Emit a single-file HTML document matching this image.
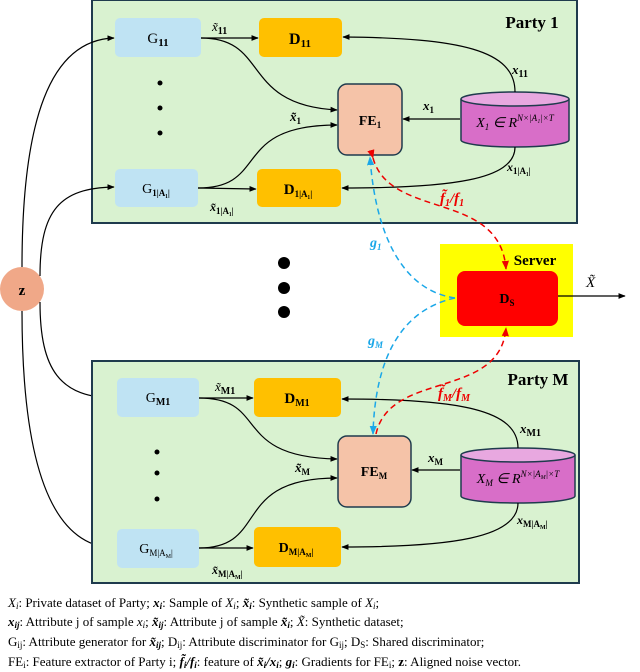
<!DOCTYPE html>
<html><head><meta charset="utf-8"><style>
body{margin:0;background:#fff;}
svg{display:block;}
text{font-family:"Liberation Serif",serif;}
.b{font-weight:bold;}
.lg{font-size:13px;}
</style></head><body>
<svg width="640" height="672" viewBox="0 0 640 672" xmlns="http://www.w3.org/2000/svg">
<defs>
<marker id="a" viewBox="0 0 10 10" refX="9" refY="5" markerWidth="6" markerHeight="6" orient="auto"><path d="M0,1 L10,5 L0,9 z" fill="#000"/></marker>
<marker id="r" viewBox="0 0 10 10" refX="9" refY="5" markerWidth="6" markerHeight="6" orient="auto"><path d="M0,1 L10,5 L0,9 z" fill="#e00"/></marker>
<marker id="c" viewBox="0 0 10 10" refX="9" refY="5" markerWidth="6" markerHeight="6" orient="auto"><path d="M0,1 L10,5 L0,9 z" fill="#1aa7e8"/></marker>
</defs>
<!-- Party 1 -->
<rect x="92" y="0" width="485" height="223" fill="#d9f2d0" stroke="#1f3b4d" stroke-width="2"/>
<text x="532" y="28" font-size="17" class="b" text-anchor="middle">Party 1</text>
<rect x="115" y="18" width="86" height="39" rx="5" fill="#bfe3f3"/>
<text x="158" y="43" font-size="15" text-anchor="middle">G<tspan font-size="11" class="b" dy="3">11</tspan></text>
<rect x="259" y="18" width="83" height="39" rx="5" fill="#ffc000"/>
<text x="300" y="44" font-size="16" class="b" text-anchor="middle">D<tspan font-size="11" dy="3">11</tspan></text>
<rect x="338" y="84" width="64" height="71" rx="9" fill="#f5c3a8" stroke="#1f3b4d" stroke-width="1.5"/>
<text x="370" y="125" font-size="14" class="b" text-anchor="middle">FE<tspan font-size="9" dy="3">1</tspan></text>
<path d="M461,99 L461,140 A54,7 0 0 0 569,140 L569,99" fill="#d86ec8" stroke="#1f3b4d" stroke-width="1.5"/>
<ellipse cx="515" cy="99" rx="54" ry="7" fill="#e8a8e0" stroke="#1f3b4d" stroke-width="1.5"/>
<text x="515" y="127" font-size="14" font-style="italic" text-anchor="middle">X<tspan font-size="9" dy="3">1</tspan><tspan dy="-3"> ∈ R</tspan><tspan font-size="9" dy="-6">N×|A₁|×T</tspan></text>
<rect x="115" y="169" width="83" height="38" rx="5" fill="#bfe3f3"/>
<text x="156" y="193" font-size="14" text-anchor="middle">G<tspan font-size="9" class="b" dy="3">1|A₁|</tspan></text>
<rect x="257" y="169" width="84" height="38" rx="5" fill="#ffc000"/>
<text x="298" y="194" font-size="15" class="b" text-anchor="middle">D<tspan font-size="9" dy="3">1|A₁|</tspan></text>
<circle cx="160" cy="83" r="2.5"/><circle cx="160" cy="108" r="2.5"/><circle cx="160" cy="133" r="2.5"/>
<g fill="none" stroke="#000" stroke-width="1.2">
<path d="M201,38 L258,38" marker-end="url(#a)"/>
<path d="M201,38 C270,38 240,105 337,110" marker-end="url(#a)"/>
<path d="M198,188 C270,188 230,125 337,125" marker-end="url(#a)"/>
<path d="M198,188 L256,189" marker-end="url(#a)"/>
<path d="M460,119 L403,119" marker-end="url(#a)"/>
<path d="M515,92 C515,50 460,38 343,37" marker-end="url(#a)"/>
<path d="M515,147 C515,180 450,188 342,188" marker-end="url(#a)"/>
</g>
<text x="212" y="31" font-size="13" font-style="italic">x̃<tspan font-size="10" font-style="normal" class="b" dy="3">11</tspan></text>
<text x="512" y="74" font-size="13" class="b" font-style="italic">x<tspan font-size="10" font-style="normal" dy="3">11</tspan></text>
<text x="423" y="110" font-size="13" class="b" font-style="italic">x<tspan font-size="9" font-style="normal" dy="3">1</tspan></text>
<text x="290" y="121" font-size="13" class="b" font-style="italic">x̃<tspan font-size="9" font-style="normal" dy="3">1</tspan></text>
<text x="507" y="171" font-size="12" class="b" font-style="italic">x<tspan font-size="9" font-style="normal" dy="3">1|A₁|</tspan></text>
<text x="210" y="211" font-size="12" class="b" font-style="italic">x̃<tspan font-size="9" font-style="normal" dy="3">1|A₁|</tspan></text>
<text x="440" y="203" font-size="15" class="b" font-style="italic" fill="#e00">f̃<tspan font-size="10" dy="3">1</tspan><tspan dy="-3">/f</tspan><tspan font-size="10" dy="3">1</tspan></text>

<!-- Server -->
<rect x="440" y="244" width="133" height="93" fill="#ffff00"/>
<rect x="457" y="271" width="101" height="55" rx="8" fill="#ff0000"/>
<text x="535" y="265" font-size="15" class="b" text-anchor="middle">Server</text>
<text x="507" y="303" font-size="14" class="b" text-anchor="middle">D<tspan font-size="9" dy="3">S</tspan></text>
<path d="M558,296 L625,296" stroke="#000" stroke-width="1.2" marker-end="url(#a)"/>
<text x="586" y="287" font-size="15" font-style="italic">X̃</text>

<!-- z -->
<circle cx="22" cy="289" r="22" fill="#f0a888"/>
<text x="22" y="295" font-size="15" class="b" text-anchor="middle">z</text>
<g fill="none" stroke="#000" stroke-width="1.2">
<path d="M22,267 C22,120 50,40 114,38" marker-end="url(#a)"/>
<path d="M40,276 C40,210 60,188 114,187" marker-end="url(#a)"/>
<path d="M40,302 C40,370 60,398 116,398" marker-end="url(#a)"/>
<path d="M22,311 C22,460 50,548 116,548" marker-end="url(#a)"/>
</g>
<circle cx="284" cy="263" r="6"/><circle cx="284" cy="288" r="6"/><circle cx="284" cy="312" r="6"/>

<!-- Party M -->
<rect x="92" y="361" width="487" height="222" fill="#d9f2d0" stroke="#1f3b4d" stroke-width="2"/>
<text x="538" y="385" font-size="17" class="b" text-anchor="middle">Party M</text>
<rect x="117" y="378" width="82" height="39" rx="5" fill="#bfe3f3"/>
<text x="158" y="402" font-size="14" text-anchor="middle">G<tspan font-size="10" class="b" dy="3">M1</tspan></text>
<rect x="254" y="378" width="87" height="39" rx="5" fill="#ffc000"/>
<text x="297" y="403" font-size="15" class="b" text-anchor="middle">D<tspan font-size="10" dy="3">M1</tspan></text>
<rect x="338" y="436" width="73" height="71" rx="9" fill="#f5c3a8" stroke="#1f3b4d" stroke-width="1.5"/>
<text x="374" y="476" font-size="14" class="b" text-anchor="middle">FE<tspan font-size="9" dy="3">M</tspan></text>
<path d="M461,455 L461,496 A57,7 0 0 0 575,496 L575,455" fill="#d86ec8" stroke="#1f3b4d" stroke-width="1.5"/>
<ellipse cx="518" cy="455" rx="57" ry="7" fill="#e8a8e0" stroke="#1f3b4d" stroke-width="1.5"/>
<text x="518" y="483" font-size="14" font-style="italic" text-anchor="middle">X<tspan font-size="9" dy="3">M</tspan><tspan dy="-3"> ∈ R</tspan><tspan font-size="9" dy="-6">N×|A</tspan><tspan font-size="6" dy="2">M</tspan><tspan font-size="9" dy="-2">|×T</tspan></text>
<rect x="117" y="529" width="82" height="39" rx="5" fill="#bfe3f3"/>
<text x="156" y="553" font-size="14" text-anchor="middle">G<tspan font-size="9" dy="3">M|A</tspan><tspan font-size="6" dy="2">M</tspan><tspan font-size="9" dy="-2">|</tspan></text>
<rect x="254" y="527" width="87" height="40" rx="5" fill="#ffc000"/>
<text x="296" y="552" font-size="14" class="b" text-anchor="middle">D<tspan font-size="9" dy="3">M|A</tspan><tspan font-size="6" dy="2">M</tspan><tspan font-size="9" dy="-2">|</tspan></text>
<circle cx="157" cy="452" r="2.5"/><circle cx="157" cy="473" r="2.5"/><circle cx="157" cy="499" r="2.5"/>
<g fill="none" stroke="#000" stroke-width="1.2">
<path d="M199,398 L253,398" marker-end="url(#a)"/>
<path d="M199,398 C270,398 230,457 337,459" marker-end="url(#a)"/>
<path d="M199,548 C270,548 230,478 337,478" marker-end="url(#a)"/>
<path d="M199,548 L253,548" marker-end="url(#a)"/>
<path d="M460,470 L412,470" marker-end="url(#a)"/>
<path d="M518,448 C518,410 460,399 342,399" marker-end="url(#a)"/>
<path d="M518,503 C518,538 450,547 342,547" marker-end="url(#a)"/>
</g>
<text x="215" y="391" font-size="13" font-style="italic">x̃<tspan font-size="10" font-style="normal" class="b" dy="3">M1</tspan></text>
<text x="520" y="433" font-size="13" class="b" font-style="italic">x<tspan font-size="10" font-style="normal" dy="3">M1</tspan></text>
<text x="428" y="462" font-size="13" class="b" font-style="italic">x<tspan font-size="9" font-style="normal" dy="3">M</tspan></text>
<text x="295" y="472" font-size="13" class="b" font-style="italic">x̃<tspan font-size="9" font-style="normal" dy="3">M</tspan></text>
<text x="517" y="524" font-size="12" class="b" font-style="italic">x<tspan font-size="9" font-style="normal" dy="3">M|A</tspan><tspan font-size="6" font-style="normal" dy="2">M</tspan><tspan font-size="9" font-style="normal" dy="-2">|</tspan></text>
<text x="212" y="574" font-size="12" class="b" font-style="italic">x̃<tspan font-size="9" font-style="normal" dy="3">M|A</tspan><tspan font-size="6" font-style="normal" dy="2">M</tspan><tspan font-size="9" font-style="normal" dy="-2">|</tspan></text>
<text x="438" y="398" font-size="15" class="b" font-style="italic" fill="#e00">f̃<tspan font-size="10" dy="3">M</tspan><tspan dy="-3">/f</tspan><tspan font-size="10" dy="3">M</tspan></text>

<!-- dashed (on top) -->
<g fill="none" stroke-width="1.5" stroke-dasharray="6,4">
<path d="M455,298 C400,290 375,230 370,157" stroke="#1aa7e8" marker-end="url(#c)"/>
<path d="M455,298 C400,310 375,360 373,434" stroke="#1aa7e8" marker-end="url(#c)"/>
<path d="M373,158 C390,220 500,190 506,269" stroke="#e00" marker-end="url(#r)" marker-start="url(#r)"/>
<path d="M376,434 C390,370 500,400 506,328" stroke="#e00" marker-end="url(#r)"/>
</g>
<text x="370" y="247" font-size="14" class="b" font-style="italic" fill="#1aa7e8">g<tspan font-size="9" dy="3">1</tspan></text>
<text x="368" y="345" font-size="14" class="b" font-style="italic" fill="#1aa7e8">g<tspan font-size="9" dy="3">M</tspan></text>

<!-- legend -->
<text x="8" y="607" class="lg"><tspan font-style="italic">X<tspan font-size="9" dy="2">i</tspan></tspan><tspan dy="-2">: Private dataset of Party; </tspan><tspan class="b" font-style="italic">x<tspan font-size="9" dy="2">i</tspan></tspan><tspan dy="-2">: Sample of </tspan><tspan font-style="italic">X<tspan font-size="9" dy="2">i</tspan></tspan><tspan dy="-2">; </tspan><tspan class="b" font-style="italic">x̃<tspan font-size="9" dy="2">i</tspan></tspan><tspan dy="-2">: Synthetic sample of </tspan><tspan font-style="italic">X<tspan font-size="9" dy="2">i</tspan></tspan><tspan dy="-2">;</tspan></text>
<text x="8" y="626" class="lg"><tspan class="b" font-style="italic">x<tspan font-size="9" dy="2">ij</tspan></tspan><tspan dy="-2">: Attribute j of sample </tspan><tspan font-style="italic">x<tspan font-size="9" dy="2">i</tspan></tspan><tspan dy="-2">; </tspan><tspan class="b" font-style="italic">x̃<tspan font-size="9" dy="2">ij</tspan></tspan><tspan dy="-2">: Attribute j of sample </tspan><tspan class="b" font-style="italic">x̃<tspan font-size="9" dy="2">i</tspan></tspan><tspan dy="-2">; </tspan><tspan font-style="italic">X̃</tspan>: Synthetic dataset;</text>
<text x="8" y="646" class="lg">G<tspan font-size="9" dy="2">ij</tspan><tspan dy="-2">: Attribute generator for </tspan><tspan class="b" font-style="italic">x̃<tspan font-size="9" dy="2">ij</tspan></tspan><tspan dy="-2">; D</tspan><tspan font-size="9" dy="2">ij</tspan><tspan dy="-2">: Attribute discriminator for G</tspan><tspan font-size="9" dy="2">ij</tspan><tspan dy="-2">; D</tspan><tspan font-size="9" dy="2">S</tspan><tspan dy="-2">: Shared discriminator;</tspan></text>
<text x="8" y="666" class="lg">FE<tspan font-size="9" dy="2">i</tspan><tspan dy="-2">: Feature extractor of Party i; </tspan><tspan class="b" font-style="italic">f̃<tspan font-size="9" dy="2">i</tspan></tspan><tspan class="b" font-style="italic" dy="-2">/f<tspan font-size="9" dy="2">i</tspan></tspan><tspan dy="-2">: feature of </tspan><tspan class="b" font-style="italic">x̃<tspan font-size="9" dy="2">i</tspan></tspan><tspan class="b" font-style="italic" dy="-2">/x<tspan font-size="9" dy="2">i</tspan></tspan><tspan dy="-2">; </tspan><tspan class="b" font-style="italic">g<tspan font-size="9" dy="2">i</tspan></tspan><tspan dy="-2">: Gradients for FE</tspan><tspan font-size="9" dy="2">i</tspan><tspan dy="-2">; </tspan><tspan class="b">z</tspan>: Aligned noise vector.</text>
</svg>
</body></html>
